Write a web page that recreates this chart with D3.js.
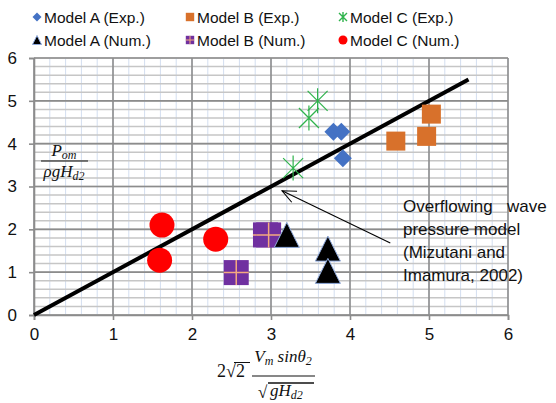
<!DOCTYPE html>
<html>
<head>
<meta charset="utf-8">
<script src="https://cdn.jsdelivr.net/npm/d3@7"></script>
<style>
  body { margin: 0; background: #fff; }
  svg { display: block; }
</style>
</head>
<body>
<svg id="chart" width="556" height="403"></svg>
<script>
// values
const modelAExp = [[3.79, 4.28], [3.89, 4.28], [3.91, 3.66]];
const modelBExp = [[4.58, 4.06], [4.97, 4.17], [5.03, 4.69]];
const modelCExp = [[3.59, 5.0], [3.48, 4.6], [3.28, 3.43]];
const modelANum = [[3.2, 1.87], [3.72, 1.55], [3.72, 1.03]];
const modelBNum = [[2.56, 0.99], [2.93, 1.87], [2.97, 1.87]];
const modelCNum = [[1.62, 2.1], [1.59, 1.28], [2.3, 1.77]];
const modelLine = [[0, 0], [5.5, 5.5]];
const legendLabels = ["Model A (Exp.)", "Model B (Exp.)", "Model C (Exp.)",
                      "Model A (Num.)", "Model B (Num.)", "Model C (Num.)"];
const tickValues = [0, 1, 2, 3, 4, 5, 6];
const noteLines = ["Overflowing   wave", "pressure model", "(Mizutani and", "Imamura, 2002)"];
const arrowFrom = [4.51, 1.68], arrowTo = [3.14, 2.9];

const svg = d3.select('#chart');
const font = '"Liberation Sans", Arial, sans-serif';
const mathFont = '"Liberation Serif", "DejaVu Serif", serif';

// scales
var x = d3.scaleLinear().domain([0, 6]).range([34, 508]);
var y = d3.scaleLinear().domain([0, 6]).range([315, 58]);

// grid: minor vertical (light blue), minor horizontal (grey), then major
var grid = svg.append('g');
grid.selectAll('.vminor')
    .data(d3.range(0, 6.01, 0.2))
    .enter().append('line')
    .attr('x1', d => x(d)).attr('x2', d => x(d))
    .attr('y1', y(0)).attr('y2', y(6))
    .attr('stroke', '#d3def0').attr('stroke-width', 1);
grid.selectAll('.hminor')
    .data(d3.range(0, 6.01, 0.2))
    .enter().append('line')
    .attr('x1', x(0)).attr('x2', x(6))
    .attr('y1', d => y(d)).attr('y2', d => y(d))
    .attr('stroke', '#c6c6c6').attr('stroke-width', 1.5);
grid.selectAll('.vmajor')
    .data(tickValues)
    .enter().append('line')
    .attr('x1', d => x(d)).attr('x2', d => x(d))
    .attr('y1', y(0)).attr('y2', y(6))
    .attr('stroke', '#8c8c8c').attr('stroke-width', 1.6);
grid.selectAll('.hmajor')
    .data(tickValues)
    .enter().append('line')
    .attr('x1', x(0)).attr('x2', x(6))
    .attr('y1', d => y(d)).attr('y2', d => y(d))
    .attr('stroke', '#8c8c8c').attr('stroke-width', 1.6);

// axes
var xAxis = svg.append('g')
    .attr('transform', 'translate(0,' + y(0) + ')')
    .call(d3.axisBottom(x).tickValues(tickValues).tickFormat(d3.format('d')).tickSize(5).tickPadding(8));
var yAxis = svg.append('g')
    .attr('transform', 'translate(' + x(0) + ',0)')
    .call(d3.axisLeft(y).tickValues(tickValues).tickFormat(d3.format('d')).tickSize(5).tickPadding(12));
[xAxis, yAxis].forEach(function(a) {
    a.select('.domain').attr('stroke', '#8c8c8c').attr('stroke-width', 1.6);
    a.selectAll('line').attr('stroke', '#8c8c8c').attr('stroke-width', 1.6);
    a.selectAll('text').style('font', '17px ' + font).attr('fill', '#111');
});

// model line
svg.append('path')
    .datum(modelLine)
    .attr('d', d3.line().x(d => x(d[0])).y(d => y(d[1])))
    .attr('stroke', '#000').attr('stroke-width', 4).attr('fill', 'none');

// marker helpers
function drawDiamond(g, s) {
    g.append('path').attr('d', 'M0,' + (-s) + 'L' + s + ',0L0,' + s + 'L' + (-s) + ',0Z')
        .attr('fill', '#4472c4');
}
function drawOrange(g, s) {
    g.append('rect').attr('x', -s).attr('y', -s).attr('width', 2 * s).attr('height', 2 * s)
        .attr('fill', '#d8712b');
}
function drawStar(g, s) {
    g.append('path')
        .attr('d', 'M' + (-s) + ',' + (-s) + 'L' + s + ',' + s + 'M' + s + ',' + (-s) + 'L' + (-s) + ',' + s +
                   'M0,' + (-s * 1.25) + 'L0,' + (s * 1.25))
        .attr('stroke', '#2fb34c').attr('stroke-width', s > 6 ? 1.2 : 1.4).attr('fill', 'none');
}
function drawTriangle(g, s) {
    g.append('path').attr('d', 'M0,' + (-s) + 'L' + s + ',' + s + 'L' + (-s) + ',' + s + 'Z')
        .attr('fill', '#000').attr('stroke', '#8faadc').attr('stroke-width', 1);
}
function drawPurple(g, s) {
    g.append('rect').attr('x', -s).attr('y', -s).attr('width', 2 * s).attr('height', 2 * s)
        .attr('fill', '#7030a0');
    g.append('path').attr('d', 'M0,' + (-s) + 'L0,' + s + 'M' + (-s) + ',0L' + s + ',0')
        .attr('stroke', '#f4a97f').attr('stroke-width', s > 6 ? 1.5 : 1);
}
function drawCircle(g, s) {
    g.append('circle').attr('r', s).attr('fill', '#ff0000');
}

var series = [
    {data: modelCNum, draw: drawCircle, size: 12.5},
    {data: modelBNum, draw: drawPurple, size: 12.5},
    {data: modelANum, draw: drawTriangle, size: 12.5},
    {data: modelCExp, draw: drawStar, size: 10},
    {data: modelAExp, draw: drawDiamond, size: 9},
    {data: modelBExp, draw: drawOrange, size: 9.5}
];
series.forEach(function(s) {
    svg.append('g').selectAll('g')
        .data(s.data)
        .enter().append('g')
        .attr('transform', d => 'translate(' + x(d[0]) + ',' + y(d[1]) + ')')
        .each(function() { s.draw(d3.select(this), s.size); });
});

// legend
var legendDraw = [drawDiamond, drawOrange, drawStar, drawTriangle, drawPurple, drawCircle];
var legendSize = [4.5, 4.2, 4, 4.5, 4.2, 4.5];
var legend = svg.append('g');
legendLabels.forEach(function(label, i) {
    var lx = [37, 190, 343][i % 3];
    var ly = i < 3 ? 17 : 40;
    var g = legend.append('g').attr('transform', 'translate(' + lx + ',' + ly + ')');
    legendDraw[i](g, legendSize[i]);
    g.append('text').attr('x', 7).attr('y', 5.5).text(label)
        .style('font', '15.5px ' + font).attr('fill', '#111');
});

// annotation and arrow
svg.append('line')
    .attr('x1', x(arrowFrom[0])).attr('y1', y(arrowFrom[1]))
    .attr('x2', x(arrowTo[0])).attr('y2', y(arrowTo[1]))
    .attr('stroke', '#000').attr('stroke-width', 1.1);
var ang = Math.atan2(y(arrowFrom[1]) - y(arrowTo[1]), x(arrowFrom[0]) - x(arrowTo[0]));
var hx = x(arrowTo[0]), hy = y(arrowTo[1]);
svg.append('path')
    .attr('d', 'M' + (hx + 15 * Math.cos(ang - 0.42)) + ',' + (hy + 15 * Math.sin(ang - 0.42)) +
               'L' + hx + ',' + hy +
               'L' + (hx + 15 * Math.cos(ang + 0.42)) + ',' + (hy + 15 * Math.sin(ang + 0.42)))
    .attr('stroke', '#000').attr('stroke-width', 1.1).attr('fill', 'none');

var note = svg.append('text').style('font', '17px ' + font).attr('fill', '#111')
    .attr('xml:space', 'preserve');
noteLines.forEach(function(t, i) {
    note.append('tspan').attr('x', 403).attr('y', 212 + i * 23).text(t);
});

// y label: P_om / (rho g H_d2)
var yl = svg.append('g').style('font', 'italic 17px ' + mathFont).attr('fill', '#111');
var num = yl.append('text').attr('x', 64).attr('y', 156).attr('text-anchor', 'middle');
num.append('tspan').text('P');
num.append('tspan').attr('dy', 3).style('font-size', '12px').text('om');
yl.append('line').attr('x1', 41).attr('x2', 88).attr('y1', 161).attr('y2', 161)
    .attr('stroke', '#111').attr('stroke-width', 1.2);
var den = yl.append('text').attr('x', 64).attr('y', 177).attr('text-anchor', 'middle');
den.append('tspan').text('ρgH');
den.append('tspan').attr('dy', 3).style('font-size', '12px').text('d2');

// x label: 2 sqrt2 * V_m sin(theta_2) / sqrt(g H_d2)
var xl = svg.append('g').style('font', 'italic 17px ' + mathFont).attr('fill', '#111');
xl.append('text').attr('x', 217).attr('y', 377).style('font-style', 'normal').style('font-size', '18px').text('2√2');
xl.append('line').attr('x1', 234).attr('x2', 250).attr('y1', 362.5).attr('y2', 362.5)
    .attr('stroke', '#111').attr('stroke-width', 1);
var xn = xl.append('text').attr('x', 283).attr('y', 362).attr('text-anchor', 'middle');
xn.append('tspan').text('V');
xn.append('tspan').attr('dy', 3).style('font-size', '12px').text('m');
xn.append('tspan').attr('dy', -3).text(' sinθ');
xn.append('tspan').attr('dy', 3).style('font-size', '12px').text('2');
xl.append('line').attr('x1', 252).attr('x2', 315).attr('y1', 376).attr('y2', 376)
    .attr('stroke', '#111').attr('stroke-width', 1.2);
xl.append('text').attr('x', 258).attr('y', 398).style('font-style', 'normal').text('√');
xl.append('line').attr('x1', 268).attr('x2', 314).attr('y1', 383).attr('y2', 383)
    .attr('stroke', '#111').attr('stroke-width', 1.6);
var xd = xl.append('text').attr('x', 270).attr('y', 396);
xd.append('tspan').text('gH');
xd.append('tspan').attr('dy', 3).style('font-size', '12px').text('d2');
</script>
</body>
</html>
